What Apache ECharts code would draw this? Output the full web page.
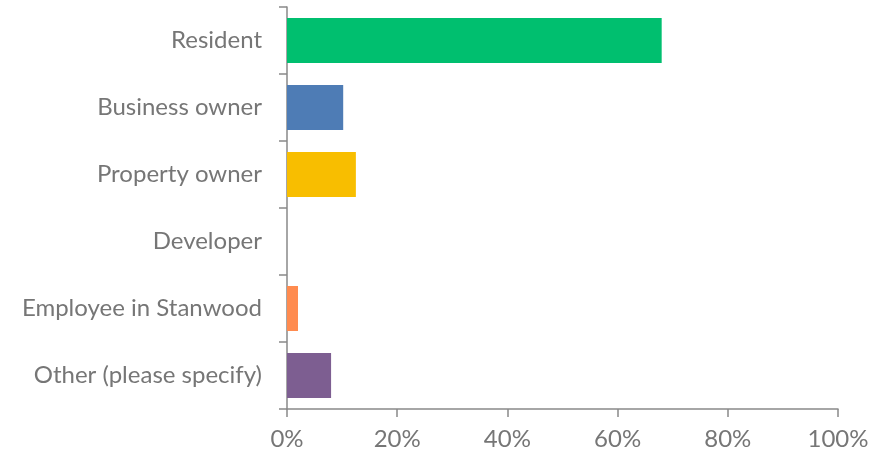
<!DOCTYPE html>
<html>
<head>
<meta charset="utf-8">
<script src="https://cdn.jsdelivr.net/npm/echarts@6/dist/echarts.min.js"></script>
<style>
  html, body { margin: 0; padding: 0; background: #fff; }
  #chart { width: 884px; height: 456px; }
</style>
</head>
<body>
<div id="chart"></div>
<script>
const categories = ["Resident", "Business owner", "Property owner", "Developer", "Employee in Stanwood", "Other (please specify)"];
const values = [68, 10.2, 12.5, 0, 2, 8];
const barColors = ["#00BF6F", "#4E7CB5", "#F8BE00", "#A0A0A0", "#FF8B4F", "#7D5E91"];
const xTicks = [0, 20, 40, 60, 80, 100];

const chart = echarts.init(document.getElementById("chart"));
const axisGray = "#898989";
const textGray = "#767676";
const font = "Lato, 'Open Sans', sans-serif";

chart.setOption({
  backgroundColor: "#fff",
  animation: false,
  grid: { left: 287, right: 46, top: 7, bottom: 47 },
  xAxis: {
    type: "value",
    min: xTicks[0],
    max: xTicks[xTicks.length - 1],
    interval: 20,
    axisLine: { show: true, lineStyle: { color: axisGray, width: 1.5 } },
    axisTick: { show: true, length: 8, lineStyle: { color: axisGray, width: 1.5 } },
    splitLine: { show: false },
    axisLabel: {
      formatter: "{value}%",
      color: textGray,
      fontFamily: font,
      fontSize: 24,
      margin: 18
    }
  },
  yAxis: {
    type: "category",
    inverse: true,
    data: categories,
    axisLine: { show: true, lineStyle: { color: axisGray, width: 1.5 } },
    axisTick: { show: true, length: 8, lineStyle: { color: axisGray, width: 1.5 } },
    axisLabel: {
      color: textGray,
      fontFamily: font,
      fontSize: 24,
      margin: 25
    }
  },
  series: [{
    type: "bar",
    data: values.map((v, i) => ({ value: v, itemStyle: { color: barColors[i] } })),
    barWidth: 45
  }]
});
</script>
</body>
</html>
